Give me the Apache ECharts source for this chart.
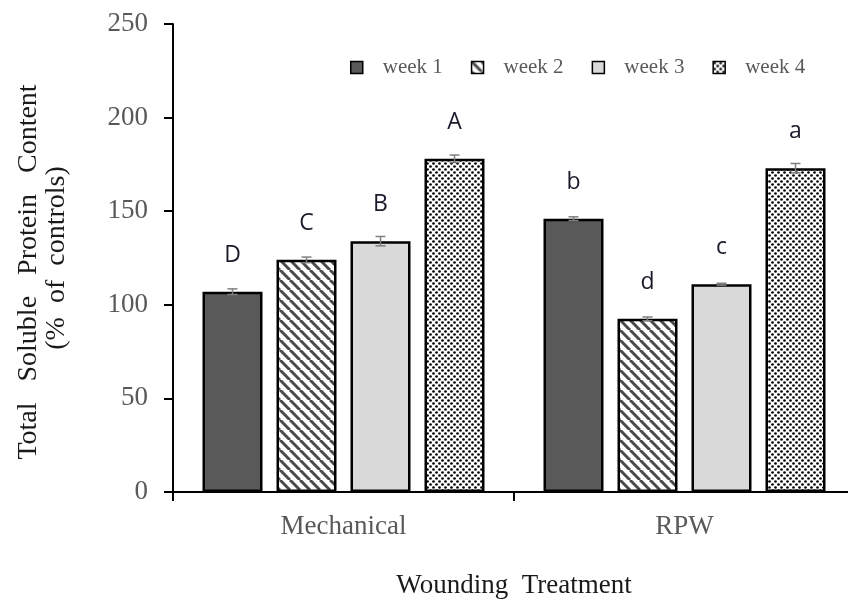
<!DOCTYPE html>
<html><head><meta charset="utf-8">
<script src="https://cdn.jsdelivr.net/npm/echarts@6/dist/echarts.min.js"></script>
<style>html,body{margin:0;padding:0;background:#fff}#c{width:848px;height:599px}</style>
</head><body><div id="c"></div>
<script>
const categories = ['Mechanical', 'RPW'];
const seriesNames = ['week 1', 'week 2', 'week 3', 'week 4'];
const week1 = [107, 146];
const week2 = [124, 92.5];
const week3 = [134, 111];
const week4 = [178, 173];
const err1 = [1.5, 1];
const err2 = [1.5, 1];
const err3 = [2.5, 0.5];
const err4 = [2, 2.5];
const letters1 = ['D', 'b'];
const letters2 = ['C', 'd'];
const letters3 = ['B', 'c'];
const letters4 = ['A', 'a'];
const yTicks = [0, 50, 100, 150, 200, 250];

function stripeCanvas() {
  const n = 10;
  const c = document.createElement('canvas');
  c.width = n; c.height = n;
  const g = c.getContext('2d');
  g.fillStyle = '#fff'; g.fillRect(0, 0, n, n);
  g.strokeStyle = '#4a4a4a'; g.lineWidth = 3;
  for (let k = -n; k <= 2 * n; k += n) {
    g.beginPath(); g.moveTo(k, 0); g.lineTo(k + n, n); g.stroke();
  }
  return c;
}
function dotCanvas() {
  const c = document.createElement('canvas');
  c.width = 6; c.height = 6;
  const g = c.getContext('2d');
  g.fillStyle = '#fff'; g.fillRect(0, 0, 6, 6);
  g.fillStyle = '#000';
  [[1.5, 1.5], [4.5, 4.5]].forEach(([x, y]) => {
    g.beginPath(); g.arc(x, y, 1.35, 0, Math.PI * 2); g.fill();
  });
  return c;
}
const fills = [
  '#595959',
  { image: stripeCanvas(), repeat: 'repeat' },
  '#d9d9d9',
  { image: dotCanvas(), repeat: 'repeat' }
];
const values = [week1, week2, week3, week4];
const errs = [err1, err2, err3, err4];
const letters = [letters1, letters2, letters3, letters4];

const BAR_W = 60, GAP = 14;
const barSeries = values.map((v, i) => ({
  name: seriesNames[i],
  type: 'bar',
  data: v,
  barWidth: BAR_W,
  barGap: (GAP / BAR_W * 100) + '%',
  itemStyle: { color: fills[i], borderColor: '#000', borderWidth: 2.5 },
  label: {
    show: true, position: 'top', distance: 25,
    formatter: p => letters[i][p.dataIndex],
    fontFamily: '"Open Sans", "Liberation Sans", sans-serif',
    fontSize: 23, color: '#1a1a2a'
  },
  z: 2
}));
const errSeries = values.map((v, i) => ({
  type: 'custom',
  data: v.map((val, j) => [j, val, errs[i][j]]),
  z: 5,
  silent: true,
  renderItem: (params, api) => {
    const x = api.value(0), y = api.value(1), e = api.value(2);
    const off = (i - 1.5) * (BAR_W + GAP);
    const hi = api.coord([x, y + e]);
    const lo = api.coord([x, y - e]);
    const cx = hi[0] + off;
    const st = { stroke: '#7f7f7f', lineWidth: 1.5 };
    return { type: 'group', children: [
      { type: 'line', shape: { x1: cx, y1: hi[1], x2: cx, y2: lo[1] }, style: st },
      { type: 'line', shape: { x1: cx - 5, y1: hi[1], x2: cx + 5, y2: hi[1] }, style: st },
      { type: 'line', shape: { x1: cx - 5, y1: lo[1], x2: cx + 5, y2: lo[1] }, style: st }
    ]};
  }
}));

const serif = '"Liberation Serif", "DejaVu Serif", serif';
const chart = echarts.init(document.getElementById('c'), null, { renderer: 'canvas' });
chart.setOption({
  animation: false,
  backgroundColor: '#fff',
  grid: { left: 173, top: 24, width: 682, height: 468, containLabel: false, outerBoundsMode: 'none' },
  legend: {
    data: seriesNames,
    left: 345, top: 52,
    icon: 'rect',
    itemWidth: 12, itemHeight: 12, itemGap: 28,
    textStyle: { fontFamily: serif, fontSize: 21, color: '#595959', padding: [0, 0, 0, 15] },
    itemStyle: { borderColor: '#000', borderWidth: 1.5 }
  },
  xAxis: {
    type: 'category', data: categories,
    name: 'Wounding  Treatment', nameLocation: 'middle', nameGap: 80,
    nameTextStyle: { fontFamily: serif, fontSize: 27, color: '#1a1a1a' },
    axisLine: { lineStyle: { color: '#000', width: 2 } },
    axisTick: { show: true, length: 9, lineStyle: { color: '#000', width: 2 } },
    axisLabel: { margin: 21, fontFamily: serif, fontSize: 27, color: '#595959' }
  },
  yAxis: {
    type: 'value', min: yTicks[0], max: yTicks[yTicks.length - 1], interval: 50,
    name: 'Total   Soluble   Protein   Content    \n(%  of  controls)',
    nameLocation: 'middle', nameGap: 102,
    nameTextStyle: { fontFamily: serif, fontSize: 28, color: '#1a1a1a', lineHeight: 28 },
    axisLine: { show: true, lineStyle: { color: '#000', width: 2 } },
    axisTick: { show: true, length: 9, lineStyle: { color: '#000', width: 2 } },
    axisLabel: { margin: 25, fontFamily: serif, fontSize: 27, color: '#595959' },
    splitLine: { show: false }
  },
  series: [...barSeries, ...errSeries]
});
</script></body></html>
